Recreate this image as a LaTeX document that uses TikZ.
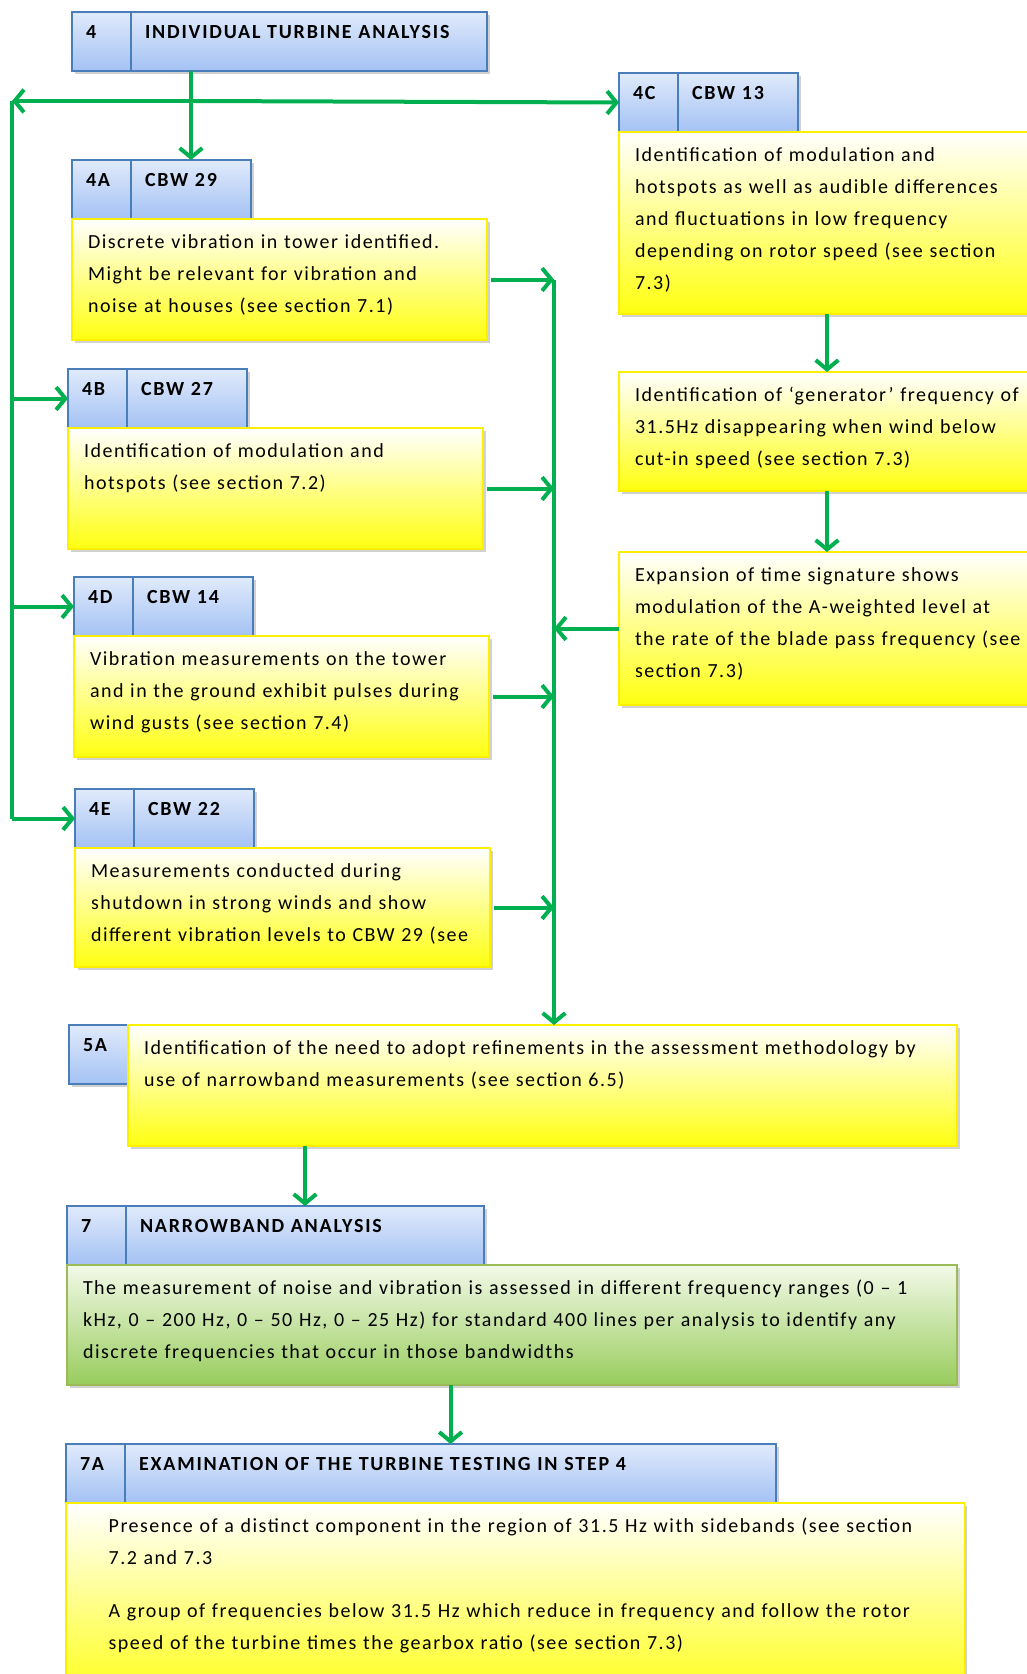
\documentclass[tikz,border=0pt]{standalone}
\usepackage{fontspec}
\setmainfont{Carlito}
\newfontfamily\notefont{Carlito}[LetterSpace=7.5]
\newfontfamily\headfont{Carlito}[LetterSpace=9]
\usepackage{tikz}
\usetikzlibrary{arrows.meta,positioning,shadows,calc}
\definecolor{stepBlue}{RGB}{74,126,187}
\definecolor{hdrTop}{RGB}{224,234,251}
\definecolor{hdrBot}{RGB}{164,194,244}
\definecolor{noteEdge}{RGB}{252,240,0}
\definecolor{noteYel}{RGB}{255,255,16}
\definecolor{greenTop}{RGB}{242,249,232}
\definecolor{greenBot}{RGB}{152,204,92}
\definecolor{greenEdge}{RGB}{155,187,89}
\definecolor{flowGreen}{RGB}{0,176,80}
\tikzset{
  stepShadow/.style={drop shadow={shadow xshift=2pt,shadow yshift=-2.5pt,fill=black!45,opacity=.4}},
  numCell/.style={rectangle,draw=stepBlue,line width=1pt,top color=hdrTop,bottom color=hdrBot,
                  stepShadow,outer sep=0pt,text width=23.25pt,align=left,inner xsep=10.5pt,
                  inner ysep=0pt,text height=20pt,text depth=24.25pt,
                  font=\headfont\fontsize{15}{18}\selectfont\bfseries},
  titleCell/.style={numCell,text width=#1},
  noteBox/.style={rectangle,draw=noteEdge,line width=1pt,top color=white,bottom color=noteYel,
                  stepShadow,outer sep=0pt,text width=#1,align=left,inner xsep=12pt,inner ysep=0pt,
                  text height=22pt,text depth=68.75pt,font=\notefont\fontsize{15}{24}\selectfont},
  greenBox/.style={noteBox=#1,draw=greenEdge,top color=greenTop,bottom color=greenBot},
  flow/.style={-{Straight Barb[length=7pt,width=17pt]},line width=3pt,draw=flowGreen},
  link/.style={line width=3pt,draw=flowGreen},
}
\begin{document}
\begin{tikzpicture}[x=0.75pt,y=-0.75pt,
  tb/.style={titleCell=69pt}]
  \useasboundingbox (0,0) rectangle (1027,1674);
  \node[numCell,anchor=north west](n4) at (72,12){4};
  \node[titleCell=246pt,right=0pt of n4](t4){INDIVIDUAL TURBINE ANALYSIS};

  \node[numCell,anchor=north west](n4a) at (72,160){4A};
  \node[tb,right=0pt of n4a](t4a){CBW 29};
  \node[noteBox=287.25pt,anchor=north west](b4a) at (n4a.south west){Discrete vibration in tower identified.\\
    Might be relevant for vibration and\\noise at houses (see section 7.1)};

  \node[numCell,anchor=north west](n4b) at (68,369){4B};
  \node[tb,right=0pt of n4b](t4b){CBW 27};
  \node[noteBox=287.25pt,anchor=north west](b4b) at (n4b.south west){Identification of modulation and\\
    hotspots (see section 7.2)};

  \node[numCell,anchor=north west](n4d) at (74,577){4D};
  \node[tb,right=0pt of n4d](t4d){CBW 14};
  \node[noteBox=287.25pt,anchor=north west](b4d) at (n4d.south west){Vibration measurements on the tower\\
    and in the ground exhibit pulses during\\wind gusts (see section 7.4)};

  \node[numCell,anchor=north west](n4e) at (75,789){4E};
  \node[tb,right=0pt of n4e](t4e){CBW 22};
  \node[noteBox=287.25pt,text depth=67.25pt,anchor=north west](b4e) at (n4e.south west){Measurements conducted during\\
    shutdown in strong winds and show\\different vibration levels to CBW 29 (see};

  \node[numCell,anchor=north west](n4c) at (619,73){4C};
  \node[tb,right=0pt of n4c](t4c){CBW 13};
  \node[noteBox=300pt,text depth=114.5pt,anchor=north west](b4c) at (n4c.south west){Identification of modulation and\\
    hotspots as well as audible differences\\and fluctuations in low frequency\\
    depending on rotor speed (see section\\7.3)};
  \node[noteBox=300pt,text depth=67.25pt,anchor=north west](r2) at (619,372){Identification of ‘generator’ frequency of\\
    31.5Hz disappearing when wind below\\cut-in speed (see section 7.3)};
  \node[noteBox=300pt,text depth=92.75pt,anchor=north west](r3) at (619,552){Expansion of time signature shows\\
    modulation of the A-weighted level at\\the rate of the blade pass frequency (see\\section 7.3)};

  \node[numCell,anchor=north west](n5a) at (69,1025){5A};
  \node[noteBox=597.75pt,anchor=north west](b5a) at (n5a.north east){Identification of the need to adopt refinements in the assessment methodology by\\
    use of narrowband measurements (see section 6.5)};

  \node[numCell,anchor=north west](n7) at (67,1206){7};
  \node[titleCell=247.5pt,right=0pt of n7](t7){NARROWBAND ANALYSIS};
  \node[greenBox=643.5pt,text depth=68pt,anchor=north west](b7) at (n7.south west){The measurement of noise and vibration is assessed in different frequency ranges (0 – 1\\
    kHz, 0 – 200 Hz, 0 – 50 Hz, 0 – 25 Hz) for standard 400 lines per analysis to identify any\\
    discrete frequencies that occur in those bandwidths};

  \node[numCell,anchor=north west](n7a) at (66,1444){7A};
  \node[titleCell=467.25pt,right=0pt of n7a](t7a){EXAMINATION OF THE TURBINE TESTING IN STEP 4};
  \node[noteBox=610pt,inner xsep=32pt,text depth=130pt,anchor=north west](b7a) at (n7a.south west){Presence of a distinct component in the region of 31.5 Hz with sidebands (see section\\
    7.2 and 7.3\\[16pt]
    A group of frequencies below 31.5 Hz which reduce in frequency and follow the rotor\\
    speed of the turbine times the gearbox ratio (see section 7.3)};

  \coordinate (lt) at (12,101);
  \coordinate (j1) at (lt -| t4a.north);
  \path (b4a.east) -- ++(67,0) coordinate (col);
  \draw[flow](t4.south -| t4a.north)--(t4a.north);
  \draw[flow](j1)--(lt);
  \draw[flow](j1)--(n4c.west);
  \draw[link](lt)--(lt |- n4e.west);
  \foreach \s in {n4b,n4d,n4e}{\draw[flow](lt |- \s.west)--(\s.west);}
  \foreach \s in {b4a,b4b,b4d,b4e}{\draw[flow,shorten <=3pt](\s.east)--(\s.east -| col);}
  \draw[flow](col)--(col |- b5a.north);
  \draw[flow](r3.west)--(r3.west -| col);
  \draw[flow]([xshift=-6pt]b4c.south)--([xshift=-6pt]r2.north);
  \draw[flow]([xshift=-6pt]r2.south)--([xshift=-6pt]r3.north);
  \draw[flow](b5a.south -| t7.north)--(t7.north);
  \draw[flow](b7.south -| t7a.north)--(t7a.north);
\end{tikzpicture}
\end{document}
